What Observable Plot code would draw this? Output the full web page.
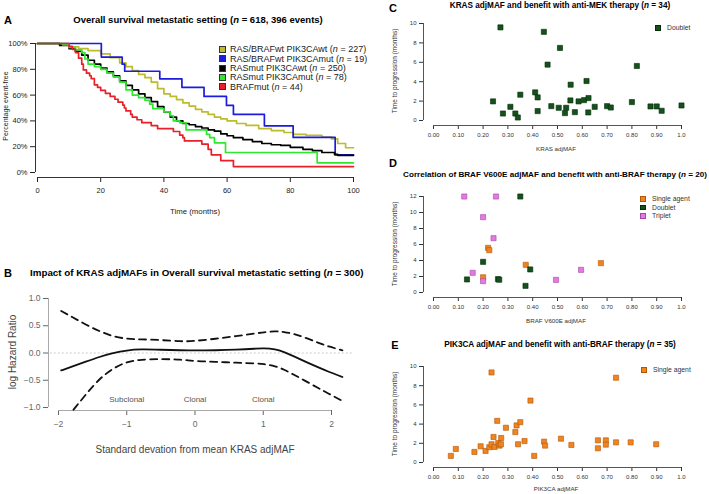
<!DOCTYPE html>
<html><head><meta charset="utf-8">
<script src="https://cdn.jsdelivr.net/npm/d3@7"></script>
<script src="https://cdn.jsdelivr.net/npm/@observablehq/plot@0.6"></script>
<style>
body{margin:0;background:#fff;font-family:"Liberation Sans",Arial,Helvetica,sans-serif;}
#fig{position:relative;width:709px;height:494px;overflow:hidden;background:#fff;}
#fig svg{position:absolute;left:0;top:0;max-width:none;}
.t{position:absolute;white-space:nowrap;color:#000;line-height:1;}
.sw{position:absolute;box-sizing:border-box;}
</style></head><body><div id="fig"></div>
<script>
// ---------- Panel A: Kaplan-Meier (time in months, % event-free) ----------
const kmGroups = ["RAS/BRAFwt PIK3CAwt", "RAS/BRAFwt PIK3CAmut", "RASmut PIK3CAwt", "RASmut PIK3CAmut", "BRAFmut"];
const kmN = [227, 19, 250, 78, 44];
const kmColors = ["#bcbc2c", "#1c1cdc", "#000000", "#2ee82e", "#e8202a"];
const kmWtWt = [[0,100],[5,100],[7,99],[10,97.5],[13,96],[16,94.5],[20,92],[23,89],[26,85],[28,82],[30,79],[32,76],[34,73.5],[36,70],[38,65],[40,61],[42,59],[44,56.5],[46,54],[48,51.5],[50,49],[52,47],[54,45],[56,43],[58,41.5],[60,40],[63,38],[66,36.5],[70,34],[74,32.5],[78,31],[81,29.5],[85,28.8],[90,27.5],[93,26],[95,22.5],[97.5,19.2],[100,19.2]];
const kmWtMut = [[0,100],[20.2,89.5],[26.8,84],[27.6,78.5],[38.7,72.6],[45.7,66],[52.7,59],[59.8,52],[62,45],[71.8,36.2],[80.9,27.2],[94.2,13.6],[100,13.6]];
const kmMutWt = [[0,100],[5,100],[7,98.5],[10,96],[12,94],[14,91],[16,87],[18,84],[20,81],[22,78],[24,75],[26,71],[28,67.5],[30,64],[32,61],[34,58],[36,55],[38,51],[40,47],[42,43],[44,40],[46,38],[48,37],[50,35.5],[52,34.5],[54,33],[56,32],[58,30],[60,28.5],[62,27],[65,25.5],[68,24],[71,22.5],[74,21.5],[77,21],[80,19.5],[84,18],[87,17],[90,15.5],[94,14],[95,13.3],[100,13.3]];
const kmMutMut = [[0,100],[6,100],[8,99],[10,97],[12,95],[14,93],[15,88],[16,84],[18,82],[20,80],[22,77],[24,74],[26,70],[28,64],[30,60],[32,58],[34,56],[35.5,53],[36.5,49.5],[40,47],[42,44],[43,40],[45,38.5],[47,33],[53.5,29.5],[54.5,27],[56,23],[59.5,15.5],[88.5,7.5],[100,7.5]];
const kmBraf = [[0,100],[10,97.7],[11,95.5],[12,93],[13,88.6],[14,84],[14.5,79.5],[15.5,77],[16.5,75],[17,72.7],[18,68],[19,66],[20,63.6],[21.5,61.4],[23,59],[24.5,56.8],[25.5,54.5],[27,52.3],[27.5,50],[28,47.7],[29.5,45],[30,43],[31.5,40.9],[33,38.6],[36,36.4],[38,34],[43,31.8],[45,29],[46,27],[46.5,24.5],[52,22],[54,18],[55,13.7],[58,9.2],[62,4.6],[100,4.6]];
const kmSeries = [kmWtWt, kmWtMut, kmMutWt, kmMutMut, kmBraf];
const kmXTicks = [0, 20, 40, 60, 80, 100];
const kmYTicks = [0, 20, 40, 60, 80, 100];
const kmYLabels = ["0%", "20%", "40%", "60%", "80%", "100%"];

// ---------- Panel B: spline of log hazard ratio ----------
const bX     = [-1.96,-1.8,-1.6,-1.4,-1.2,-1.0,-0.8,-0.5,-0.2,0,0.3,0.6,0.9,1.0,1.18,1.3,1.45,1.6,1.8,1.95,2.16];
const bFit   = [-0.32,-0.25,-0.16,-0.07,0.00,0.05,0.07,0.06,0.05,0.045,0.05,0.06,0.08,0.09,0.07,0.02,-0.06,-0.15,-0.26,-0.34,-0.44];
const bUpper = [0.77,0.66,0.52,0.40,0.30,0.26,0.25,0.24,0.21,0.22,0.26,0.31,0.36,0.38,0.40,0.39,0.35,0.29,0.19,0.12,0.05];
const bLowX  = [-1.78,-1.6,-1.4,-1.2,-1.0,-0.8,-0.5,-0.2,0,0.3,0.6,0.9,1.0,1.18,1.3,1.45,1.6,1.8,1.95,2.16];
const bLower = [-1.04,-0.76,-0.47,-0.28,-0.16,-0.12,-0.11,-0.12,-0.15,-0.16,-0.18,-0.19,-0.2,-0.24,-0.3,-0.4,-0.5,-0.64,-0.74,-0.88];
const bXTicks = [-2, -1, 0, 1, 2];
const bXLabels = ["\u22122", "\u22121", "0", "1", "2"];
const bYTicks = [-1, -0.5, 0, 0.5, 1];
const bYLabels = ["\u22121.0", "\u22120.5", "0.0", "0.5", "1.0"];
const bNoteX = [-1, 0, 1];
const bNoteText = ["Subclonal", "Clonal", "Clonal"];

// ---------- Panel C: KRAS adjMAF vs TTP (doublet) ----------
const cMaf = [0.24,0.27,0.28,0.31,0.33,0.34,0.35,0.41,0.42,0.42,0.445,0.46,0.475,0.505,0.51,0.53,0.535,0.553,0.552,0.57,0.585,0.607,0.617,0.625,0.624,0.65,0.70,0.715,0.80,0.82,0.875,0.90,0.92,1.0];
const cTtp = [1.97,9.6,0.72,1.41,0.72,0.31,2.66,2.9,2.38,0.97,9.14,5.76,1.48,1.31,7.48,0.76,1.31,3.69,2.07,0.86,1.97,2.1,4.07,2.31,0.83,1.41,1.48,1.34,1.9,5.62,1.45,1.45,1.0,1.55];

// ---------- Panel D: BRAF V600E adjMAF vs TTP ----------
const dSingleMaf = [0.22, 0.225, 0.20, 0.372, 0.675];
const dSingleTtp = [5.58, 5.29, 1.9, 3.46, 3.67];
const dDoubletMaf = [0.35, 0.20, 0.39, 0.135, 0.26, 0.265, 0.371];
const dDoubletTtp = [12, 3.83, 2.88, 1.63, 1.67, 1.6, 0.83];
const dTripletMaf = [0.124, 0.252, 0.20, 0.242, 0.158, 0.20, 0.494, 0.595];
const dTripletTtp = [12, 12, 9.42, 6.79, 2.46, 1.42, 1.58, 2.83];

// ---------- Panel E: PIK3CA adjMAF vs TTP (single agent) ----------
const eMaf = [0.07,0.09,0.165,0.19,0.21,0.225,0.234,0.234,0.242,0.246,0.257,0.261,0.266,0.272,0.273,0.292,0.33,0.335,0.341,0.35,0.367,0.391,0.406,0.446,0.45,0.514,0.556,0.663,0.663,0.695,0.695,0.736,0.736,0.795,0.898];
const eTtp = [0.69,1.41,1.1,1.69,1.21,1.59,1.9,9.38,2.66,1.62,4.34,2.03,1.76,1.9,2.55,3.62,3.17,3.86,1.9,4.2,2.24,6.45,0.69,2.17,1.76,2.48,1.83,2.31,1.48,2.31,1.86,2.1,8.83,2.1,1.9];

const mafTicks = [0,0.1,0.2,0.3,0.4,0.5,0.6,0.7,0.8,0.9,1.0];
const mafLabels = ["0.00","0.10","0.20","0.30","0.40","0.50","0.60","0.70","0.80","0.90","1.0"];
const ttpTicks10 = [0,2,4,6,8,10];
const ttpTicks12 = [0,2,4,6,8,10,12];
const treatNames = ["Single agent", "Doublet", "Triplet"];
const treatColors = ["#f0841e", "#13531a", "#e27ae2"];
const treatStroke = ["#b0580a", "#06280b", "#a447a4"];

// ---------------- drawing ----------------
const fig = document.getElementById("fig");
const FONT = "Liberation Sans, Arial, Helvetica, sans-serif";
const W = 709, H = 494;
const lab = (ticks, labels) => d => labels[ticks.findIndex(t => Math.abs(t - d) < 1e-9)];

function addPlot(o) {
  const svg = Plot.plot(Object.assign({width: W, height: H,
    style: Object.assign({fontFamily: FONT, background: "transparent", overflow: "visible"}, o.style || {})}, o.spec));
  fig.appendChild(svg);
}
function txt(html, x, y, o = {}) {
  const d = document.createElement("div");
  d.className = "t";
  d.innerHTML = html;
  d.style.left = x + "px"; d.style.top = y + "px";
  d.style.fontSize = (o.size || 8) + "px";
  if (o.bold) d.style.fontWeight = "bold";
  if (o.color) d.style.color = o.color;
  const a = o.anchor || "middle";
  let tr = a === "start" ? "translate(0,-50%)" : a === "end" ? "translate(-100%,-50%)" : "translate(-50%,-50%)";
  if (o.rotate) tr += " rotate(-90deg)";
  d.style.transform = tr;
  fig.appendChild(d);
}
function swatch(x, y, size, fill, stroke) {
  const s = document.createElement("div");
  s.className = "sw";
  s.style.left = (x - size / 2) + "px"; s.style.top = (y - size / 2) + "px";
  s.style.width = size + "px"; s.style.height = size + "px";
  s.style.background = fill; s.style.border = "1px solid " + stroke;
  fig.appendChild(s);
}

// Panel A
addPlot({style: {fontSize: "7.5px", color: "#222"}, spec: {
  marginLeft: 35, marginRight: W - 353, marginTop: 43, marginBottom: H - 177,
  x: {domain: [0, 100], range: [37, 353], ticks: kmXTicks, tickSize: 5, tickPadding: 5, label: null},
  y: {domain: [0, 100], range: [172, 43], ticks: kmYTicks, tickFormat: lab(kmYTicks, kmYLabels), tickSize: 5, tickPadding: 3, label: null},
  marks: [
    Plot.ruleY([0], {x1: 0, x2: 100, dy: 5, stroke: "#333"}),
    Plot.ruleX([0], {y1: 0, y2: 100, dx: -2, stroke: "#333"}),
    ...[0, 1, 2, 3, 4].map(i => Plot.line(kmSeries[i], {x: d => d[0], y: d => d[1], curve: "step-after", stroke: kmColors[i], strokeWidth: 1.7}))
  ]
}});
txt("A", 8, 20, {size: 11, bold: true});
txt("Overall survival metastatic setting (<i>n</i> = 618, 396 events)", 198, 20, {size: 9.5, bold: true});
txt("Time (months)", 195, 212, {size: 7.8, color: "#222"});
txt("Percentage event-free", 5, 106, {size: 7, rotate: true, color: "#222"});
const legY = [49, 58.5, 68, 77.3, 86.5];
kmGroups.forEach((g, i) => {
  swatch(222, legY[i], 7, kmColors[i], "#333");
  txt(g + " (<i>n</i> = " + kmN[i] + ")", 230, legY[i], {size: 9, anchor: "start", color: "#222"});
});

// Panel B
addPlot({style: {fontSize: "8.5px", color: "#666"}, spec: {
  marginLeft: 48, marginRight: W - 331, marginTop: 298, marginBottom: H - 410,
  x: {domain: [-2, 2], range: [58, 331], ticks: bXTicks, tickFormat: lab(bXTicks, bXLabels), tickSize: 5, tickPadding: 5, label: null},
  y: {domain: [-1, 1], range: [407, 298], ticks: bYTicks, tickFormat: lab(bYTicks, bYLabels), tickSize: 5, tickPadding: 3, label: null},
  marks: [
    Plot.ruleY([-1], {x1: -2, x2: 2, dy: 3, stroke: "#aaa"}),
    Plot.ruleX([-2], {y1: -1, y2: 1, dx: -10, stroke: "#aaa"}),
    Plot.ruleY([0], {x1: -2.12, x2: 2.32, stroke: "#ccc", strokeDasharray: "2,2"}),
    Plot.line(bX, {x: d => d, y: (d, i) => bFit[i], curve: "basis", stroke: "#111", strokeWidth: 1.8}),
    Plot.line(bX, {x: d => d, y: (d, i) => bUpper[i], curve: "basis", stroke: "#111", strokeWidth: 1.8, strokeDasharray: "7,5"}),
    Plot.line(bLowX, {x: d => d, y: (d, i) => bLower[i], curve: "basis", stroke: "#111", strokeWidth: 1.8, strokeDasharray: "7,5"}),
    Plot.text(bNoteX, {x: d => d, y: -0.86, text: (d, i) => bNoteText[i], fill: "#555", fontSize: 8})
  ]
}});
txt("B", 8, 273, {size: 11, bold: true});
txt("Impact of KRAS adjMAFs in Overall survival metastatic setting (<i>n</i> = 300)", 30, 273, {size: 9.8, bold: true, anchor: "start"});
txt("log Hazard Ratio", 13, 352, {size: 10, rotate: true, color: "#444"});
txt("Standard devation from mean KRAS adjMAF", 195, 450, {size: 10, color: "#444"});

// Scatter panel helper
function scatter(top0, bottom0, ymax, yTicks, series) {
  addPlot({style: {fontSize: "6px", color: "#333"}, spec: {
    marginLeft: 423, marginRight: W - 681, marginTop: top0, marginBottom: H - (bottom0 + 5),
    x: {domain: [0, 1], range: [433, 681], ticks: mafTicks, tickFormat: lab(mafTicks, mafLabels), tickSize: 4, tickPadding: 3, label: null},
    y: {domain: [0, ymax], range: [bottom0, top0], ticks: yTicks, tickSize: 4, tickPadding: 3, label: null},
    marks: [
      Plot.ruleY([0], {x1: 0, x2: 1, dy: 5, stroke: "#555"}),
      Plot.ruleX([0], {y1: 0, y2: ymax, dx: -10, stroke: "#555"}),
      ...series.map(s => Plot.dot(s.x, {x: d => d, y: (d, i) => s.y[i], symbol: "square", r: 2.9, fill: s.fill, stroke: s.stroke, strokeWidth: 0.6}))
    ]
  }});
}

// Panel C
scatter(23, 120, 10, ttpTicks10, [{x: cMaf, y: cTtp, fill: treatColors[1], stroke: treatStroke[1]}]);
txt("C", 393, 8, {size: 11, bold: true});
txt("KRAS adjMAF and benefit with anti-MEK therapy (<i>n</i> = 34)", 560, 6, {size: 8.2, bold: true});
txt("KRAS adjMAF", 556, 149, {size: 6.2, color: "#333"});
txt("Time to progression (months)", 395, 71, {size: 6.5, rotate: true, color: "#333"});
swatch(658, 28, 5.5, treatColors[1], treatStroke[1]);
txt(treatNames[1], 667, 28, {size: 6.8, anchor: "start", color: "#333"});

// Panel D
scatter(196, 292, 12, ttpTicks12, [
  {x: dSingleMaf, y: dSingleTtp, fill: treatColors[0], stroke: treatStroke[0]},
  {x: dDoubletMaf, y: dDoubletTtp, fill: treatColors[1], stroke: treatStroke[1]},
  {x: dTripletMaf, y: dTripletTtp, fill: treatColors[2], stroke: treatStroke[2]}
]);
txt("D", 393, 163, {size: 11, bold: true});
txt("Correlation of BRAF V600E adjMAF and benefit with anti-BRAF therapy (<i>n</i> = 20)", 555, 175, {size: 8.1, bold: true});
txt("BRAF V600E adjMAF", 556, 321, {size: 6.2, color: "#333"});
txt("Time to progression (months)", 395, 244, {size: 6.5, rotate: true, color: "#333"});
[199, 207.5, 216].forEach((yy, i) => {
  swatch(643, yy, 5.5, treatColors[i], treatStroke[i]);
  txt(treatNames[i], 652, yy, {size: 6.8, anchor: "start", color: "#333"});
});

// Panel E
scatter(366, 462, 10, ttpTicks10, [{x: eMaf, y: eTtp, fill: treatColors[0], stroke: treatStroke[0]}]);
txt("E", 395, 345, {size: 11, bold: true});
txt("PIK3CA adjMAF and benefit with anti-BRAF therapy (<i>n</i> = 35)", 560, 345, {size: 8.2, bold: true});
txt("PIK3CA adjMAF", 556, 489, {size: 6.2, color: "#333"});
txt("Time to progression (months)", 395, 414, {size: 6.5, rotate: true, color: "#333"});
swatch(644, 370, 5.5, treatColors[0], treatStroke[0]);
txt(treatNames[0], 653, 370, {size: 6.8, anchor: "start", color: "#333"});
</script></body></html>
